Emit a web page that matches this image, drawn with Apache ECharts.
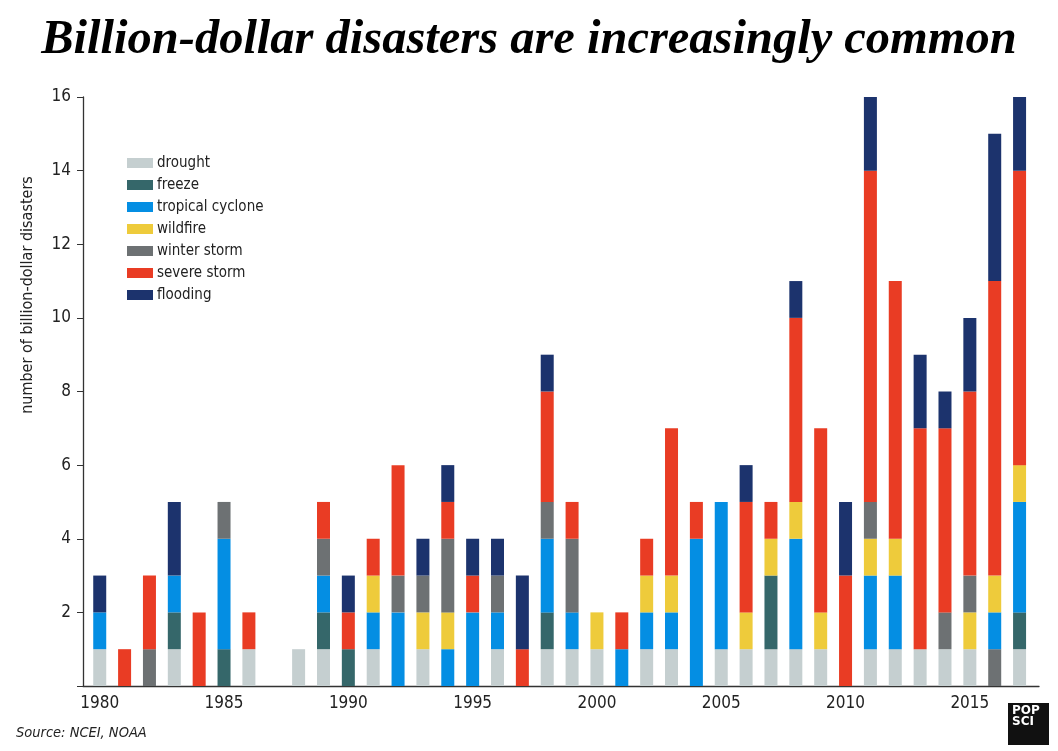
<!DOCTYPE html>
<html>
<head>
<meta charset="utf-8">
<script src="https://cdn.jsdelivr.net/npm/echarts@6/dist/echarts.min.js"></script>
<style>
html,body{margin:0;padding:0;background:#fff;}
#chart{width:1058px;height:751px;}
</style>
</head>
<body>
<div id="chart"></div>
<script>
const years = ['1980','1981','1982','1983','1984','1985','1986','1987','1988','1989',
  '1990','1991','1992','1993','1994','1995','1996','1997','1998','1999',
  '2000','2001','2002','2003','2004','2005','2006','2007','2008','2009',
  '2010','2011','2012','2013','2014','2015','2016','2017'];
const yTicks = [0, 2, 4, 6, 8, 10, 12, 14, 16];
// winter storm event drawn at the bottom of the 2016 stack (as in the original)
const winterStormBelow = [0,0,0,0,0,0,0,0,0,0, 0,0,0,0,0,0,0,0,0,0, 0,0,0,0,0,0,0,0,0,0, 0,0,0,0,0,0,1,0];
const drought      = [1,0,0,1,0,0,1,0,1,1, 0,1,0,1,0,0,1,0,1,1, 1,0,1,1,0,1,1,1,1,1, 0,1,1,1,1,1,0,1];
const freeze       = [0,0,0,1,0,1,0,0,0,1, 1,0,0,0,0,0,0,0,1,0, 0,0,0,0,0,0,0,2,0,0, 0,0,0,0,0,0,0,1];
const tropical     = [1,0,0,1,0,3,0,0,0,1, 0,1,2,0,1,2,1,0,2,1, 0,1,1,1,4,4,0,0,3,0, 0,2,2,0,0,0,1,3];
const wildfire     = [0,0,0,0,0,0,0,0,0,0, 0,1,0,1,1,0,0,0,0,0, 1,0,1,1,0,0,1,1,1,1, 0,1,1,0,0,1,1,1];
const winterStorm  = [0,0,1,0,0,1,0,0,0,1, 0,0,1,1,2,0,1,0,1,2, 0,0,0,0,0,0,0,0,0,0, 0,1,0,0,1,1,0,0];
const severeStorm  = [0,1,2,0,2,0,1,0,0,1, 1,1,3,0,1,1,0,1,3,1, 0,1,1,4,1,0,3,1,5,5, 3,9,7,6,5,5,8,8];
const flooding     = [1,0,0,2,0,0,0,0,0,0, 1,0,0,1,1,1,1,2,1,0, 0,0,0,0,0,0,1,0,1,0, 2,2,0,2,1,2,4,2];

const C = {
  drought:'#c5cfd0', freeze:'#35676a', tropical:'#048ee3', wildfire:'#eecb3b',
  winter:'#6d7173', severe:'#e93c24', flooding:'#1c336d'
};
const FONT = "'Liberation Sans Narrow','DejaVu Sans Condensed','Roboto',sans-serif";

function bar(name, data, color){
  return {name:name, type:'bar', stack:'all', xAxisIndex:1, yAxisIndex:1,
    data:data, barWidth:13, itemStyle:{color:color}, emphasis:{disabled:true}};
}

const chart = echarts.init(document.getElementById('chart'), null, {renderer:'canvas'});
chart.setOption({
  animation:false,
  backgroundColor:'#fff',
  title:{
    text:'Billion-dollar disasters are increasingly common',
    left:'center', top:11,
    textStyle:{fontFamily:"'Liberation Serif','DejaVu Serif',serif", fontWeight:'bold',
      fontStyle:'italic', fontSize:48.5, color:'#000'}
  },
  legend:{
    orient:'vertical', left:127, top:155, padding:0, icon:'rect', itemWidth:26, itemHeight:10, itemGap:6,
    data:['drought','freeze','tropical cyclone','wildfire','winter storm','severe storm','flooding'],
    textStyle:{fontFamily:FONT, fontSize:15, color:'#222', lineHeight:16, padding:[0,0,0,-1]},
    selectedMode:false
  },
  grid:[
    {left:83, right:19, top:97, bottom:65},
    {left:87.3, right:26, top:97, bottom:65}
  ],
  xAxis:[
    {gridIndex:0, type:'value', min:0, max:1, axisLabel:{show:false}, axisTick:{show:false},
      splitLine:{show:false}, axisLine:{show:true, lineStyle:{color:'#333', width:1.3}}},
    {gridIndex:1, type:'category', data:years, axisLine:{show:false}, axisTick:{show:false},
      axisLabel:{interval:4, margin:9, fontFamily:FONT, fontSize:17, color:'#222'}}
  ],
  yAxis:[
    {gridIndex:0, type:'value', min:yTicks[0], max:yTicks[yTicks.length-1], interval:2,
      splitLine:{show:false},
      axisLine:{show:true, lineStyle:{color:'#333', width:1.3}},
      axisTick:{show:true, length:6, lineStyle:{color:'#333'}},
      axisLabel:{margin:12, fontFamily:FONT, fontSize:17, color:'#222',
        formatter:function(v){ return v === 0 ? '' : String(v); }}},
    {gridIndex:1, type:'value', min:yTicks[0], max:yTicks[yTicks.length-1], show:false}
  ],
  graphic:[
    {type:'text', x:28, y:295, rotation:Math.PI/2,
      style:{text:'number of billion-dollar disasters', fontFamily:FONT, fontSize:16,
        fill:'#222', textAlign:'center', textVerticalAlign:'middle'}},
    {type:'text', x:16, y:733,
      style:{text:'Source: NCEI, NOAA', fontFamily:FONT, fontStyle:'italic', fontSize:14.5,
        fill:'#222', textAlign:'left', textVerticalAlign:'middle'}},
    {type:'rect', shape:{x:1008, y:703, width:41, height:42}, style:{fill:'#111'}},
    {type:'text', x:1012, y:705,
      style:{text:'POP\nSCI', fontFamily:"'DejaVu Sans','Liberation Sans',sans-serif", fontWeight:'bold',
        fontSize:12, lineHeight:11, fill:'#fff', textAlign:'left', textVerticalAlign:'top'}}
  ],
  series:[
    bar('winter storm', winterStormBelow, C.winter),
    bar('drought', drought, C.drought),
    bar('freeze', freeze, C.freeze),
    bar('tropical cyclone', tropical, C.tropical),
    bar('wildfire', wildfire, C.wildfire),
    bar('winter storm', winterStorm, C.winter),
    bar('severe storm', severeStorm, C.severe),
    bar('flooding', flooding, C.flooding)
  ]
});
</script>
</body>
</html>
